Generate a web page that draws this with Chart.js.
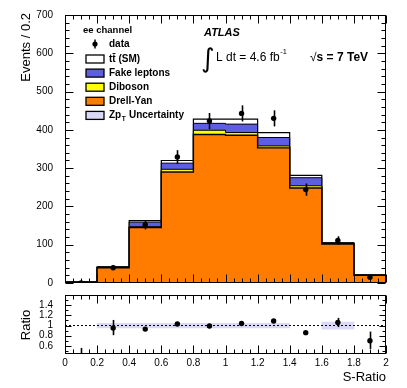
<!DOCTYPE html>
<html>
<head>
<meta charset="utf-8">
<script src="https://cdn.jsdelivr.net/npm/chart.js@4.4.0/dist/chart.umd.min.js"></script>
<style>
  html, body { margin: 0; padding: 0; background: #fff; }
  #wrap { position: relative; width: 407px; height: 388px; }
  #main { position: absolute; left: 0; top: 0; }
  #ratio { position: absolute; left: 0; top: 290px; }
</style>
</head>
<body>
<div id="wrap">
  <canvas id="main" width="407" height="290"></canvas>
  <canvas id="ratio" width="407" height="98"></canvas>
</div>
<script>
// S-Ratio bins (width 0.2)
const binEdges   = [0, 0.2, 0.4, 0.6, 0.8, 1.0, 1.2, 1.4, 1.6, 1.8, 2.0];
const binCenters = [0.1, 0.3, 0.5, 0.7, 0.9, 1.1, 1.3, 1.5, 1.7, 1.9];

// stacked backgrounds, events / bin
const drellYan    = [2, 40, 145, 290, 388, 386, 353, 248, 102, 20];
const diboson     = [0, 1, 2, 7, 11, 7, 5, 6, 1, 0];
const fakeLeptons = [0, 1, 12, 16, 18, 22, 22, 21, 2, 1];
const ttbarSM     = [1, 0, 4, 7, 11, 13, 13, 6, 0, 0];

// data
const dataCounts = [0, 40, 152, 329, 423, 443, 430, 244, 111, 15];
const dataErr    = [0, 6, 12, 18, 21, 21, 21, 16, 11, 4];

// ratio panel
const ratioVals  = [0, 0.95, 0.93, 1.03, 0.99, 1.04, 1.09, 0.86, 1.06, 0.70];
const ratioErrLo = [0, 0.14, 0.04, 0.03, 0.02, 0.02, 0.02, 0.02, 0.09, 0.16];
const ratioErrHi = [0.56, 0.16, 0.04, 0.03, 0.02, 0.02, 0.02, 0.02, 0.09, 0.18];
const zptUnc     = [null, 0.045, 0.045, 0.045, 0.045, 0.045, 0.045, null, 0.07, null];
const ratioRef   = 1;

// axis ticks
const mainYTicks  = [0, 100, 200, 300, 400, 500, 600, 700];
const ratioYTicks = [0.6, 0.8, 1, 1.2, 1.4];
const xTicks      = binEdges;

const FONT = "'Liberation Sans', Arial, Helvetica, sans-serif";
const C_DY = '#ff7c00', C_DIB = '#ffff00', C_FAKE = '#5e5ee2', C_TT = '#ffffff', C_UNC = '#dadaf8';

function stepPoints(vals) {
  return binEdges.map((e, i) => ({ x: e, y: vals[Math.min(i, vals.length - 1)] }));
}

function marks(min, max, minor, major) {
  const out = [];
  const k0 = Math.ceil(min / minor - 1e-6), k1 = Math.floor(max / minor + 1e-6);
  for (let k = k0; k <= k1; k++) {
    const v = k * minor, r = v / major;
    out.push([v, Math.abs(r - Math.round(r)) < 1e-6]);
  }
  return out;
}

// ROOT-like frame with inward ticks on all four sides
function frameTicks(o) {
  return {
    id: 'frameTicks',
    afterDraw(chart) {
      const { ctx, chartArea: a, scales: { x, y } } = chart;
      const L = Math.round(a.left) + 0.5, R = Math.round(a.right) - 0.5;
      const T = Math.round(a.top) + 0.5, B = Math.round(a.bottom) - 0.5;
      ctx.save();
      ctx.strokeStyle = '#000';
      ctx.lineWidth = 1;
      ctx.beginPath();
      marks(x.min, x.max, o.xMinor, o.xMajor).forEach(([v, major]) => {
        const p = Math.round(x.getPixelForValue(v)) + 0.5, len = major ? o.xLen : o.xLen / 2;
        ctx.moveTo(p, B); ctx.lineTo(p, B - len);
        ctx.moveTo(p, T); ctx.lineTo(p, T + len);
      });
      marks(y.min, y.max, o.yMinor, o.yMajor).forEach(([v, major]) => {
        const p = Math.round(y.getPixelForValue(v)) + 0.5, len = major ? o.yLen : o.yLen / 2;
        ctx.moveTo(L, p); ctx.lineTo(L + len, p);
        ctx.moveTo(R, p); ctx.lineTo(R - len, p);
      });
      ctx.stroke();
      ctx.strokeRect(L, T, R - L, B - T);
      ctx.restore();
    }
  };
}

function errorBars(vals, lo, hi) {
  return {
    id: 'errorBars',
    afterDatasetsDraw(chart) {
      const { ctx, chartArea: a, scales: { x, y } } = chart;
      ctx.save();
      ctx.beginPath();
      ctx.rect(a.left, a.top, a.right - a.left, a.bottom - a.top);
      ctx.clip();
      ctx.strokeStyle = '#000';
      ctx.lineWidth = 1.6;
      binCenters.forEach((c, i) => {
        if (!lo[i] && !hi[i]) return;
        const px = Math.round(x.getPixelForValue(c)) + 0.5;
        ctx.beginPath();
        ctx.moveTo(px, y.getPixelForValue(vals[i] - lo[i]));
        ctx.lineTo(px, y.getPixelForValue(vals[i] + hi[i]));
        ctx.stroke();
      });
      ctx.restore();
    }
  };
}

// legend + labels for the upper panel
const mainText = {
  id: 'mainText',
  afterDraw(chart) {
    const ctx = chart.ctx;
    ctx.save();
    ctx.fillStyle = '#000';

    // y title
    ctx.save();
    ctx.translate(30, 13);
    ctx.rotate(-Math.PI / 2);
    ctx.font = '13px ' + FONT;
    ctx.textAlign = 'right';
    ctx.textBaseline = 'alphabetic';
    ctx.fillText('Events / 0.2', 0, 0);
    ctx.restore();

    // legend
    ctx.textBaseline = 'middle';
    ctx.textAlign = 'left';
    ctx.font = 'bold 9.5px ' + FONT;
    ctx.fillText('ee channel', 83, 30);
    ctx.font = 'bold 10px ' + FONT;
    // data marker
    ctx.beginPath(); ctx.arc(95, 44, 2.6, 0, Math.PI * 2); ctx.fill();
    ctx.lineWidth = 1.5;
    ctx.beginPath(); ctx.moveTo(95, 39.5); ctx.lineTo(95, 48.5); ctx.stroke();
    ctx.fillText('data', 109, 44);
    const rows = [
      [C_TT, 't\u0074\u0304 (SM)'],
      [C_FAKE, 'Fake leptons'],
      [C_DIB, 'Diboson'],
      [C_DY, 'Drell-Yan'],
      [C_UNC, null]
    ];
    rows.forEach(([col, label], k) => {
      const cy = 59 + k * 14.1;
      ctx.fillStyle = col;
      ctx.fillRect(86, cy - 4, 18, 8);
      ctx.strokeStyle = '#000';
      ctx.lineWidth = 1.3;
      ctx.strokeRect(86, cy - 4, 18, 8);
      ctx.fillStyle = '#000';
      if (label) {
        ctx.fillText(label, 109, cy);
      } else {
        ctx.fillText('Zp', 109, cy);
        let w = ctx.measureText('Zp').width;
        ctx.font = 'bold 6.5px ' + FONT;
        ctx.fillText('T', 109 + w + 0.5, cy + 4);
        const wt = ctx.measureText('T').width;
        ctx.font = 'bold 10px ' + FONT;
        ctx.fillText(' Uncertainty', 109 + w + wt + 1, cy);
      }
    });

    // ATLAS label
    ctx.textBaseline = 'alphabetic';
    ctx.font = 'italic bold 11px ' + FONT;
    ctx.fillText('ATLAS', 204, 36);
    ctx.font = '26px DejaVu Sans';
    ctx.fillText('\u222B', 201, 67);
    ctx.font = '12px ' + FONT;
    ctx.fillText('L dt = 4.6 fb', 216, 61);
    let w = ctx.measureText('L dt = 4.6 fb').width;
    ctx.font = '7.5px ' + FONT;
    ctx.fillText('-1', 216 + w + 0.5, 54);
    ctx.font = '12px ' + FONT;
    ctx.fillText('\u221A', 310, 61);
    const ws = ctx.measureText('\u221A').width;
    ctx.font = 'bold 12px ' + FONT;
    ctx.fillText('s = 7 TeV', 310 + ws, 61);
    ctx.restore();
  }
};

const ratioText = {
  id: 'ratioText',
  afterDraw(chart) {
    const ctx = chart.ctx;
    ctx.save();
    ctx.fillStyle = '#000';
    ctx.font = '13px ' + FONT;
    ctx.save();
    ctx.translate(30, 35);
    ctx.rotate(-Math.PI / 2);
    ctx.textAlign = 'center';
    ctx.fillText('Ratio', 0, 0);
    ctx.restore();
    ctx.textAlign = 'right';
    ctx.fillText('S-Ratio', 386, 91);
    ctx.restore();
  }
};

function layer(label, vals, fillColor, width) {
  return {
    label: label,
    data: stepPoints(vals),
    stepped: 'before',
    fill: 'origin',
    backgroundColor: fillColor,
    borderColor: '#000',
    borderWidth: width,
    pointRadius: 0,
    stack: 'mc'
  };
}

// fixed y-axis width, no extra vertical padding from tick labels
function fixY(s) {
  s.width = 65;
  s.paddingTop = 0;
  s.paddingBottom = 0;
}

new Chart(document.getElementById('main'), {
  type: 'line',
  data: {
    datasets: [
      {
        label: 'data',
        data: binCenters.map((c, i) => ({ x: c, y: dataCounts[i] })),
        showLine: false,
        pointRadius: 2.7,
        pointBackgroundColor: '#000',
        pointBorderWidth: 0,
        stack: 'data'
      },
      layer('Drell-Yan', drellYan, C_DY, 1.4),
      layer('Diboson', diboson, C_DIB, 1),
      layer('Fake leptons', fakeLeptons, C_FAKE, 1),
      layer('tt (SM)', ttbarSM, C_TT, 1.2)
    ]
  },
  options: {
    responsive: false,
    animation: false,
    events: [],
    layout: { padding: { top: 15, right: 21, bottom: 7, left: 0 } },
    plugins: { legend: { display: false }, tooltip: { enabled: false } },
    scales: {
      x: { type: 'linear', min: 0, max: 2, offset: false, display: false },
      y: {
        min: 0, max: 700, stacked: true,
        afterBuildTicks: s => { s.ticks = mainYTicks.map(v => ({ value: v })); },
        afterFit: fixY,
        grid: { display: false, drawTicks: false },
        border: { display: false },
        ticks: { padding: 12, autoSkip: false, color: '#000', font: { family: FONT, size: 10 }, callback: v => String(v) }
      }
    }
  },
  plugins: [errorBars(dataCounts, dataErr, dataErr),
            frameTicks({ xMinor: 0.05, xMajor: 0.2, xLen: 8, yMinor: 20, yMajor: 100, yLen: 8 }),
            mainText]
});

const bandData = [];
binCenters.forEach((c, i) => {
  if (zptUnc[i] != null) bandData.push({ x: c, y: [ratioRef - zptUnc[i], ratioRef + zptUnc[i]] });
});

new Chart(document.getElementById('ratio'), {
  type: 'line',
  data: {
    datasets: [
      {
        label: 'ratio',
        data: binCenters.map((c, i) => ({ x: c, y: ratioVals[i] })),
        showLine: false,
        pointRadius: 2.7,
        pointBackgroundColor: '#000',
        pointBorderWidth: 0
      },
      {
        label: 'ref',
        data: [{ x: 0, y: ratioRef }, { x: 2, y: ratioRef }],
        borderColor: '#000',
        borderWidth: 1,
        borderDash: [2, 2],
        pointRadius: 0
      },
      {
        type: 'bar',
        label: 'ZpT uncertainty',
        data: bandData,
        backgroundColor: C_UNC,
        borderWidth: 0,
        barPercentage: 1,
        categoryPercentage: 1
      }
    ]
  },
  options: {
    responsive: false,
    animation: false,
    events: [],
    layout: { padding: { top: 5, right: 21, bottom: 0, left: 0 } },
    plugins: { legend: { display: false }, tooltip: { enabled: false } },
    scales: {
      x: {
        type: 'linear', min: 0, max: 2, offset: false,
        afterBuildTicks: s => { s.ticks = xTicks.map(v => ({ value: v })); },
        afterFit: s => { s.height = 34; },
        grid: { display: false, drawTicks: false, offset: false },
        border: { display: false },
        ticks: { padding: 3, maxRotation: 0, autoSkip: false, color: '#000', font: { family: FONT, size: 10 }, callback: v => String(v) }
      },
      y: {
        min: 0.44, max: 1.6,
        afterBuildTicks: s => { s.ticks = ratioYTicks.map(v => ({ value: v })); },
        afterFit: fixY,
        grid: { display: false, drawTicks: false },
        border: { display: false },
        ticks: { padding: 12, autoSkip: false, color: '#000', font: { family: FONT, size: 10 }, callback: v => String(v) }
      }
    }
  },
  plugins: [errorBars(ratioVals, ratioErrLo, ratioErrHi),
            frameTicks({ xMinor: 0.05, xMajor: 0.2, xLen: 8, yMinor: 0.1, yMajor: 0.2, yLen: 6 }),
            ratioText]
});
</script>
</body>
</html>
